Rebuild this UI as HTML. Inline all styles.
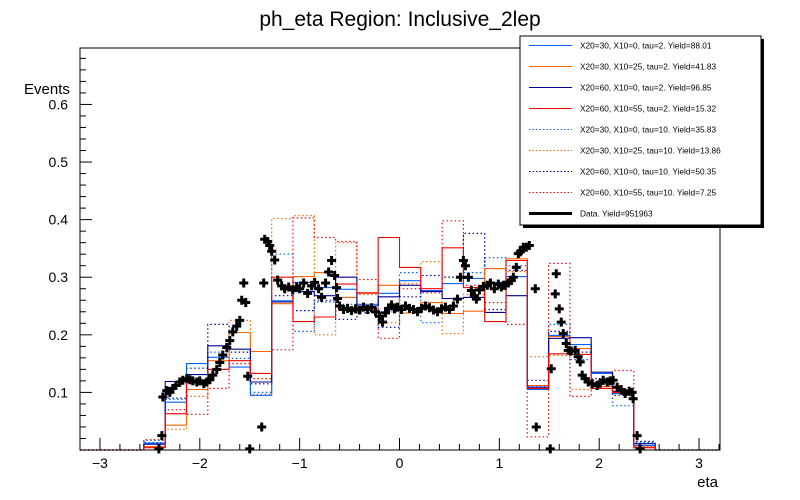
<!DOCTYPE html>
<html><head><meta charset="utf-8">
<style>
body{margin:0;background:#fff;}
svg{display:block;font-family:"Liberation Sans",Arial,sans-serif;}
</style></head>
<body>
<svg id="chart" width="800" height="500" viewBox="0 0 800 500" xmlns="http://www.w3.org/2000/svg">
<rect width="800" height="500" fill="#fff"/>
<text x="400" y="26" font-size="21" text-anchor="middle">ph_eta Region: Inclusive_2lep</text>
<text x="24" y="94" font-size="15">Events</text>
<text x="718" y="487" font-size="15" text-anchor="end">eta</text>
<g id="hists"></g>
<g id="datapts"></g>
<g id="axes"></g>
<g id="legend"></g>
</svg>
<script>
// --- chart data ---
const binLo = -3.2, binW = 0.21333, nBins = 30, firstBin = 3;
const s1 = [0.012,0.083,0.150,0.161,0.144,0.095,0.259,0.291,0.282,0.279,0.253,0.272,0.294,0.277,0.289,0.298,0.291,0.301,0.105,0.199,0.183,0.133,0.098,0.008];
const s2 = [0.006,0.043,0.105,0.155,0.204,0.171,0.254,0.301,0.308,0.265,0.272,0.286,0.238,0.256,0.237,0.241,0.315,0.332,0.112,0.197,0.176,0.110,0.100,0.005];
const s3 = [0.010,0.119,0.131,0.181,0.175,0.118,0.257,0.275,0.268,0.300,0.250,0.266,0.286,0.275,0.263,0.265,0.239,0.268,0.109,0.194,0.195,0.135,0.102,0.011];
const s4 = [0.004,0.063,0.118,0.140,0.155,0.133,0.300,0.223,0.231,0.288,0.273,0.369,0.317,0.280,0.351,0.282,0.223,0.329,0.107,0.167,0.166,0.107,0.100,0.004];
const s5 = [0.013,0.088,0.120,0.170,0.159,0.100,0.340,0.206,0.257,0.253,0.245,0.240,0.308,0.221,0.300,0.308,0.334,0.320,0.110,0.218,0.157,0.114,0.077,0.013];
const s6 = [0.018,0.036,0.093,0.140,0.225,0.097,0.402,0.407,0.200,0.360,0.270,0.221,0.289,0.327,0.202,0.270,0.290,0.310,0.162,0.164,0.105,0.115,0.100,0.006];
const s7 = [0.017,0.090,0.142,0.218,0.170,0.115,0.268,0.242,0.260,0.227,0.238,0.213,0.266,0.303,0.300,0.376,0.244,0.312,0.121,0.206,0.170,0.124,0.095,0.015];
const s8 = [0.005,0.070,0.062,0.107,0.150,0.124,0.174,0.403,0.369,0.362,0.296,0.194,0.280,0.273,0.398,0.286,0.256,0.218,0.023,0.324,0.093,0.120,0.138,0.004];
const dataEta = [-2.41,-2.38,-2.37,-2.33,-2.30,-2.27,-2.24,-2.20,-2.17,-2.13,-2.10,-2.07,-2.03,-2.00,-1.96,-1.93,-1.90,-1.87,-1.83,-1.80,-1.77,-1.73,-1.70,-1.67,-1.63,-1.60,-1.58,-1.56,-1.54,-1.52,-1.50,-1.38,-1.36,-1.35,-1.32,-1.30,-1.28,-1.25,-1.22,-1.18,-1.15,-1.11,-1.07,-1.03,-1.00,-0.96,-0.92,-0.88,-0.85,-0.81,-0.78,-0.74,-0.71,-0.68,-0.65,-0.63,-0.62,-0.60,-0.56,-0.52,-0.48,-0.44,-0.40,-0.36,-0.32,-0.28,-0.24,-0.20,-0.17,-0.14,-0.11,-0.08,-0.05,-0.02,0.02,0.06,0.10,0.14,0.18,0.22,0.26,0.30,0.34,0.38,0.42,0.46,0.50,0.54,0.58,0.61,0.64,0.66,0.69,0.72,0.75,0.77,0.80,0.84,0.88,0.91,0.95,0.99,1.02,1.04,1.06,1.09,1.12,1.14,1.17,1.19,1.21,1.24,1.27,1.30,1.36,1.37,1.51,1.52,1.56,1.57,1.60,1.62,1.64,1.67,1.69,1.72,1.76,1.79,1.81,1.83,1.86,1.89,1.93,1.98,2.01,2.04,2.08,2.11,2.14,2.18,2.22,2.26,2.30,2.33,2.34,2.38,2.41];
const dataVal = [0.002,0.025,0.092,0.103,0.100,0.107,0.112,0.118,0.121,0.124,0.122,0.120,0.118,0.120,0.115,0.118,0.122,0.130,0.140,0.152,0.165,0.178,0.190,0.205,0.215,0.225,0.260,0.290,0.256,0.128,0.002,0.040,0.290,0.366,0.362,0.355,0.345,0.330,0.295,0.285,0.280,0.283,0.278,0.283,0.280,0.290,0.272,0.285,0.291,0.280,0.265,0.290,0.309,0.329,0.303,0.282,0.263,0.250,0.244,0.246,0.242,0.245,0.243,0.248,0.244,0.247,0.240,0.232,0.222,0.238,0.246,0.252,0.245,0.248,0.244,0.250,0.246,0.244,0.240,0.246,0.250,0.247,0.243,0.240,0.245,0.248,0.244,0.250,0.262,0.300,0.329,0.320,0.300,0.277,0.268,0.262,0.278,0.284,0.286,0.290,0.280,0.288,0.283,0.286,0.286,0.290,0.294,0.300,0.317,0.341,0.344,0.352,0.352,0.355,0.280,0.040,0.002,0.141,0.271,0.306,0.245,0.222,0.202,0.185,0.173,0.172,0.173,0.162,0.153,0.130,0.124,0.118,0.115,0.112,0.116,0.121,0.118,0.120,0.121,0.109,0.105,0.098,0.102,0.100,0.089,0.025,0.002];
const yTicks = [0.1,0.2,0.3,0.4,0.5,0.6];
const xTicks = [-3,-2,-1,0,1,2,3];
const legendLabels = ["X20=30, X10=0, tau=2. Yield=88.01","X20=30, X10=25, tau=2. Yield=41.83","X20=60, X10=0, tau=2. Yield=96.85","X20=60, X10=55, tau=2. Yield=15.32","X20=30, X10=0, tau=10. Yield=35.83","X20=30, X10=25, tau=10. Yield=13.86","X20=60, X10=0, tau=10. Yield=50.35","X20=60, X10=55, tau=10. Yield=7.25","Data. Yield=951963"];

// --- axes ---
const X0=80, X1=720, Y0=450, Y1=48;
const xMin=-3.2, xMax=3.21, yMax=0.698;
const sx = v => X0 + (v - xMin) / (xMax - xMin) * (X1 - X0);
const sy = v => Y0 - v / yMax * (Y0 - Y1);
const NS = "http://www.w3.org/2000/svg";
function mk(tag, attrs, parent){ const e=document.createElementNS(NS,tag); for(const k in attrs) e.setAttribute(k,attrs[k]); parent.appendChild(e); return e; }

const series = [
 {v:s5,c:"#0066ff",d:true,n:"hist-x20-30-x10-0-tau10"},
 {v:s6,c:"#ff6600",d:true,n:"hist-x20-30-x10-25-tau10"},
 {v:s7,c:"#000099",d:true,n:"hist-x20-60-x10-0-tau10"},
 {v:s8,c:"#ff0000",d:true,n:"hist-x20-60-x10-55-tau10"},
 {v:s1,c:"#0066ff",d:false,n:"hist-x20-30-x10-0-tau2"},
 {v:s2,c:"#ff6600",d:false,n:"hist-x20-30-x10-25-tau2"},
 {v:s3,c:"#000099",d:false,n:"hist-x20-60-x10-0-tau2"},
 {v:s4,c:"#ff0000",d:false,n:"hist-x20-60-x10-55-tau2"}
];
const hg = document.getElementById('hists');
series.forEach(s=>{
  let d = "M"+X0+","+sy(0);
  for(let b=0;b<nBins;b++){
    const idx=b-firstBin;
    const val = (idx>=0 && idx<s.v.length)? s.v[idx] : 0;
    const xl=sx(binLo+b*binW), xr=sx(binLo+(b+1)*binW);
    d += " L"+xl.toFixed(1)+","+sy(val).toFixed(1)+" L"+xr.toFixed(1)+","+sy(val).toFixed(1);
  }
  d += " L"+X1+","+sy(0);
  const p = mk('path',{d:d,fill:"none",stroke:s.c,"stroke-width":s.d?1.2:1.1},hg);
  if(s.d) p.setAttribute('stroke-dasharray','1.5,2.5');
  
  
});

const dg = document.getElementById('datapts');
for(let i=0;i<dataEta.length;i++){
  const cx=sx(dataEta[i]), cy=sy(dataVal[i]);
  const p = mk('path',{d:`M${cx-1.5},${cy-4.5}h3v3h3v3h-3v3h-3v-3h-3v-3h3z`,fill:"#000"},dg);
  
  
}

const ag = document.getElementById('axes');
mk('rect',{x:X0,y:Y1,width:X1-X0,height:Y0-Y1,fill:"none",stroke:"#000","stroke-width":1},ag);
for(let v=0.02; v<yMax; v+=0.02){
  const y=sy(v); const major=Math.abs(v*10-Math.round(v*10))<1e-6;
  mk('line',{x1:X0,x2:X0+(major?12:6),y1:y,y2:y,stroke:"#000","stroke-width":1},ag);
}
yTicks.forEach(t=>{
  const tx = mk('text',{x:68,y:sy(t)+5,"font-size":14,"text-anchor":"end"},ag);
  tx.textContent=t.toFixed(1);
  
  
});
for(let k=-16;k<=16;k++){
  const v=k*0.2; const x=sx(v); if(x<X0||x>X1) continue;
  const major = k%5===0;
  mk('line',{x1:x,x2:x,y1:Y0,y2:Y0-(major?12:6),stroke:"#000","stroke-width":1},ag);
}
xTicks.forEach(t=>{
  const tx = mk('text',{x:sx(t),y:468,"font-size":14,"text-anchor":"middle"},ag);
  tx.textContent = t<0 ? "\u2212"+(-t) : String(t);
  
  
});

// --- legend ---
const lg = document.getElementById('legend');
mk('rect',{x:523,y:39,width:241,height:189,fill:"#000"},lg);
mk('rect',{x:520,y:36,width:241,height:189,fill:"#fff",stroke:"#000","stroke-width":1},lg);
const legStyles=[["#0066ff",0],["#ff6600",0],["#000099",0],["#ff0000",0],["#0066ff",1],["#ff6600",1],["#000099",1],["#ff0000",1],["#000",2]];
legendLabels.forEach((lab,i)=>{
  const y = 45.5 + i*21;
  const st=legStyles[i];
  const ln = mk('line',{x1:529,x2:572,y1:y,y2:y,stroke:st[0],"stroke-width":st[1]===2?3:1.1},lg);
  if(st[1]===1) ln.setAttribute('stroke-dasharray','1.5,2');
  const tx = mk('text',{x:580,y:y+3,"font-size":8.3},lg);
  tx.textContent=lab;
  
  
});
</script>
</body></html>
